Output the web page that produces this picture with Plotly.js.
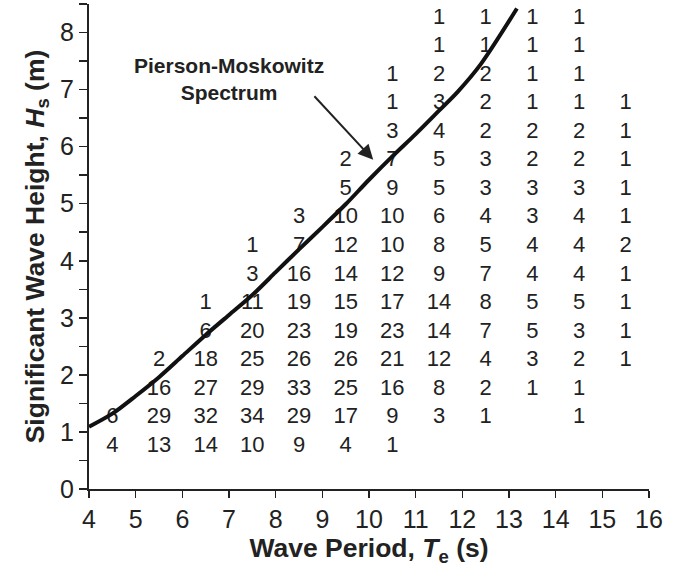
<!DOCTYPE html>
<html>
<head>
<meta charset="utf-8">
<script src="https://cdn.plot.ly/plotly-3.0.1.min.js"></script>
<style>
html,body{margin:0;padding:0;background:#fff;}
#chart{width:695px;height:570px;}
</style>
</head>
<body>
<div id="chart"></div>
<script>
// Wave period bin centres (s) and significant wave height bin centres (m)
const periodBins = [4.5, 5.5, 6.5, 7.5, 8.5, 9.5, 10.5, 11.5, 12.5, 13.5, 14.5, 15.5];
const heightBins = [0.75, 1.25, 1.75, 2.25, 2.75, 3.25, 3.75, 4.25, 4.75, 5.25, 5.75, 6.25, 6.75, 7.25, 7.75, 8.25];

// Occurrence counts, one row per height bin (bottom to top), one entry per period bin
const counts = [
  [4, 13, 14, 10, 9, 4, 1, null, null, null, null, null],
  [6, 29, 32, 34, 29, 17, 9, 3, 1, null, 1, null],
  [null, 16, 27, 29, 33, 25, 16, 8, 2, 1, 1, null],
  [null, 2, 18, 25, 26, 26, 21, 12, 4, 3, 2, 1],
  [null, null, 6, 20, 23, 19, 23, 14, 7, 5, 3, 1],
  [null, null, 1, 11, 19, 15, 17, 14, 8, 5, 5, 1],
  [null, null, null, 3, 16, 14, 12, 9, 7, 4, 4, 1],
  [null, null, null, 1, 7, 12, 10, 8, 5, 4, 4, 2],
  [null, null, null, null, 3, 10, 10, 6, 4, 3, 4, 1],
  [null, null, null, null, null, 5, 9, 5, 3, 3, 3, 1],
  [null, null, null, null, null, 2, 7, 5, 3, 2, 2, 1],
  [null, null, null, null, null, null, 3, 4, 2, 2, 2, 1],
  [null, null, null, null, null, null, 1, 3, 2, 1, 1, 1],
  [null, null, null, null, null, null, 1, 2, 2, 1, 1, null],
  [null, null, null, null, null, null, null, 1, 1, 1, 1, null],
  [null, null, null, null, null, null, null, 1, 1, 1, 1, null]
];

// Pierson-Moskowitz spectrum curve
const pmPeriod = [4.0, 4.5, 5.0, 5.5, 6.0, 6.5, 7.0, 7.5, 8.0, 8.5, 9.0, 9.5, 10.0, 10.5, 11.0, 11.5, 11.9, 12.4, 13.17];
const pmHeight = [1.09, 1.32, 1.63, 1.96, 2.33, 2.70, 3.05, 3.40, 3.80, 4.20, 4.59, 4.99, 5.42, 5.83, 6.22, 6.63, 6.96, 7.45, 8.42];

// Build text-scatter points from the table
const tx = [], ty = [], tt = [];
heightBins.forEach((h, i) => {
  periodBins.forEach((p, j) => {
    const v = counts[i][j];
    if (v !== null) { tx.push(p); ty.push(h); tt.push(String(v)); }
  });
});

const font = '"Liberation Sans", Arial, Helvetica, sans-serif';

const traces = [
  {
    x: tx, y: ty, text: tt, mode: 'text', type: 'scatter',
    textposition: 'middle center',
    textfont: {family: font, size: 22, color: '#222'},
    hoverinfo: 'skip', showlegend: false, cliponaxis: false
  },
  {
    x: pmPeriod, y: pmHeight, mode: 'lines', type: 'scatter',
    line: {color: '#111', width: 4, shape: 'spline', smoothing: 0.8},
    hoverinfo: 'skip', showlegend: false
  }
];

const layout = {
  width: 695, height: 570,
  margin: {l: 89, r: 46, t: 4, b: 81},
  paper_bgcolor: '#fff', plot_bgcolor: '#fff',
  font: {family: font, color: '#222'},
  xaxis: {
    range: [4, 16], dtick: 1, tick0: 4,
    showgrid: false, zeroline: false,
    showline: true, linecolor: '#222', linewidth: 2,
    ticks: 'outside', ticklen: 7, tickwidth: 1.5, tickcolor: '#222',
    tickfont: {family: font, size: 25, color: '#222'},
    title: {text: 'Wave Period, <i>T</i><sub>e</sub> (s)', font: {family: font, size: 26.5, color: '#222', weight: 'bold'}, standoff: 6}
  },
  yaxis: {
    range: [0, 8.5], dtick: 1, tick0: 0,
    showgrid: false, zeroline: false,
    showline: true, linecolor: '#222', linewidth: 2,
    ticks: 'outside', ticklen: 8, tickwidth: 1.5, tickcolor: '#222',
    minor: {dtick: 0.5, tick0: 0, ticks: 'outside', ticklen: 8, tickwidth: 1.5, tickcolor: '#222', showgrid: false},
    tickfont: {family: font, size: 25, color: '#222'},
    title: {text: 'Significant Wave Height, <i>H</i><sub>s</sub> (m)', font: {family: font, size: 26.5, color: '#222', weight: 'bold'}, standoff: 8}
  },
  annotations: [
    {
      x: 7.0, y: 7.18, xref: 'x', yref: 'y',
      text: '<b>Pierson-Moskowitz</b><br><b>Spectrum</b>',
      showarrow: false, align: 'center',
      font: {family: font, size: 21, color: '#222'}
    },
    {
      x: 10.09, y: 5.77, xref: 'x', yref: 'y',
      ax: 8.8, ay: 6.91, axref: 'x', ayref: 'y',
      text: '', showarrow: true,
      arrowhead: 2, arrowsize: 1.5, arrowwidth: 2, arrowcolor: '#222', standoff: 0
    }
  ]
};

Plotly.newPlot('chart', traces, layout, {displayModeBar: false, staticPlot: true});
</script>
</body>
</html>
